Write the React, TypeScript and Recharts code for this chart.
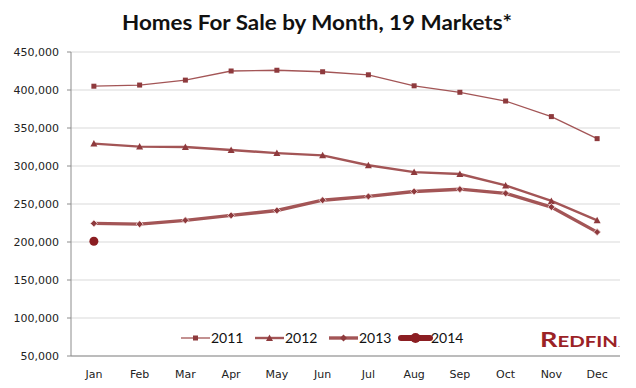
import React from 'react';
import { LineChart, Line, XAxis, YAxis, CartesianGrid, Customized } from 'recharts';

const months = ['Jan', 'Feb', 'Mar', 'Apr', 'May', 'Jun', 'Jul', 'Aug', 'Sep', 'Oct', 'Nov', 'Dec'];
const s2011 = [405000, 406500, 413000, 425000, 426000, 424000, 420000, 405500, 397000, 385500, 365000, 336000];
const s2012 = [329500, 325500, 325000, 321000, 317000, 314000, 301000, 292000, 289500, 274500, 254000, 228500];
const s2013 = [224500, 223500, 228500, 235000, 241500, 255000, 260000, 266500, 269500, 264000, 246000, 213000];
const s2014 = [201000];
const yTicks = [50000, 100000, 150000, 200000, 250000, 300000, 350000, 400000, 450000];
const labelTicks = [0, 1, 2, 3, 4, 5, 6, 7, 8, 9, 10, 11];
const boundaryTicks = [-0.5, 0.5, 1.5, 2.5, 3.5, 4.5, 5.5, 6.5, 7.5, 8.5, 9.5, 10.5, 11.5];
const seriesNames = ['2011', '2012', '2013', '2014'];

const data = months.map((m, i) => ({
  i,
  month: m,
  y2011: s2011[i],
  y2012: s2012[i],
  y2013: s2013[i],
  y2014: i < s2014.length ? s2014[i] : null,
}));

const LINE = '#a35556';
const MARK = '#8e3a3d';
const DARK = '#8b1e22';

const SquareDot = (p: any) => {
  if (p.cx == null || p.cy == null) return null;
  return <rect key={p.key} x={p.cx - 2.5} y={p.cy - 2.5} width={5} height={5} fill={MARK} />;
};
const TriDot = (p: any) => {
  if (p.cx == null || p.cy == null) return null;
  return <path key={p.key} d={`M${p.cx},${p.cy - 3.5} L${p.cx + 3.5},${p.cy + 3} L${p.cx - 3.5},${p.cy + 3} Z`} fill={MARK} />;
};
const DiaDot = (p: any) => {
  if (p.cx == null || p.cy == null) return null;
  return <path key={p.key} d={`M${p.cx},${p.cy - 3.5} L${p.cx + 3.5},${p.cy} L${p.cx},${p.cy + 3.5} L${p.cx - 3.5},${p.cy} Z`} fill={MARK} stroke="#f3dede" strokeWidth={0.8} />;
};
const BigDot = (p: any) => {
  if (p.cx == null || p.cy == null || p.value == null) return null;
  return <circle key={p.key} cx={p.cx} cy={p.cy} r={4.5} fill={DARK} />;
};

const legendStyle = [
  { w: 1.3, color: LINE, marker: 'square', x: 181 },
  { w: 2.4, color: LINE, marker: 'tri', x: 255 },
  { w: 3.4, color: LINE, marker: 'dia', x: 329 },
  { w: 6, color: DARK, marker: 'circle', x: 401 },
];

const Overlay = () => (
  <g>
    <text x={317} y={30} textAnchor="middle" fontFamily="Lato, 'Open Sans', sans-serif" fontWeight={700} fontSize={21} fill="#111" textLength={390} lengthAdjust="spacingAndGlyphs">
      Homes For Sale by Month, 19 Markets*
    </text>
    {legendStyle.map((it, k) => {
      const y = 338;
      const cx = it.x + 14.5;
      return (
        <g key={k}>
          <line x1={it.x} x2={it.x + 29} y1={y} y2={y} stroke={it.color} strokeWidth={it.w} strokeLinecap={it.marker === 'circle' ? 'round' : 'butt'} />
          {it.marker === 'square' && <rect x={cx - 2.5} y={y - 2.5} width={5} height={5} fill={MARK} />}
          {it.marker === 'tri' && <path d={`M${cx},${y - 3.5} L${cx + 3.5},${y + 3} L${cx - 3.5},${y + 3} Z`} fill={MARK} />}
          {it.marker === 'dia' && <path d={`M${cx},${y - 3.5} L${cx + 3.5},${y} L${cx},${y + 3.5} L${cx - 3.5},${y} Z`} fill={MARK} />}
          {it.marker === 'circle' && <circle cx={cx} cy={y} r={5} fill={DARK} />}
          <text x={it.x + 30} y={y + 5} fontFamily="Lato, 'Open Sans', sans-serif" fontSize={14} fill="#111">{seriesNames[k]}</text>
        </g>
      );
    })}
    <text x={620} y={347} textAnchor="end" fontFamily="Lato, 'Open Sans', sans-serif" fontWeight={700} fill="#9b2226" textLength={80} lengthAdjust="spacingAndGlyphs">
      <tspan fontSize={20}>R</tspan><tspan fontSize={15}>EDFIN</tspan><tspan fontSize={6}>.</tspan>
    </text>
  </g>
);

export default function App() {
  return (
    <div style={{ position: 'absolute', left: 0, top: 0, width: 636, height: 388, background: '#fff' }}>
      <LineChart width={636} height={388} data={data} margin={{ top: 52, right: 16, bottom: 6, left: 8 }}>
        <CartesianGrid horizontal vertical={false} stroke="#d9d9d9" xAxisId="b" />
        <XAxis
          xAxisId="b"
          dataKey="i"
          type="number"
          domain={[-0.5, 11.5]}
          ticks={boundaryTicks}
          tick={false}
          tickSize={5}
          height={6}
          axisLine={{ stroke: '#8c8c8c' }}
          tickLine={{ stroke: '#8c8c8c' }}
        />
        <XAxis
          xAxisId="lab"
          dataKey="i"
          type="number"
          domain={[-0.5, 11.5]}
          ticks={labelTicks}
          tickFormatter={(v: number) => months[v]}
          axisLine={false}
          tickLine={false}
          tickSize={0}
          tickMargin={8}
          height={20}
          interval={0}
          tick={{ fontFamily: '"DejaVu Sans", sans-serif', fontSize: 11, fill: '#222' }}
        />
        <YAxis
          domain={[50000, 450000]}
          ticks={yTicks}
          width={63}
          interval={0}
          tickFormatter={(v: number) => v.toLocaleString('en-US')}
          axisLine={{ stroke: '#8c8c8c' }}
          tickLine={{ stroke: '#8c8c8c' }}
          tickSize={4}
          tickMargin={8}
          tick={{ fontFamily: '"DejaVu Sans", sans-serif', fontSize: 11, fill: '#222' }}
        />
        <Line xAxisId="lab" dataKey="y2011" name="2011" stroke={LINE} strokeWidth={1.3} dot={SquareDot} activeDot={false} isAnimationActive={false} />
        <Line xAxisId="lab" dataKey="y2012" name="2012" stroke={LINE} strokeWidth={2.4} dot={TriDot} activeDot={false} isAnimationActive={false} />
        <Line xAxisId="lab" dataKey="y2013" name="2013" stroke={LINE} strokeWidth={3.4} dot={DiaDot} activeDot={false} isAnimationActive={false} />
        <Line xAxisId="lab" dataKey="y2014" name="2014" stroke={DARK} strokeWidth={4} dot={BigDot} activeDot={false} isAnimationActive={false} />
        <Customized component={Overlay} />
      </LineChart>
    </div>
  );
}
